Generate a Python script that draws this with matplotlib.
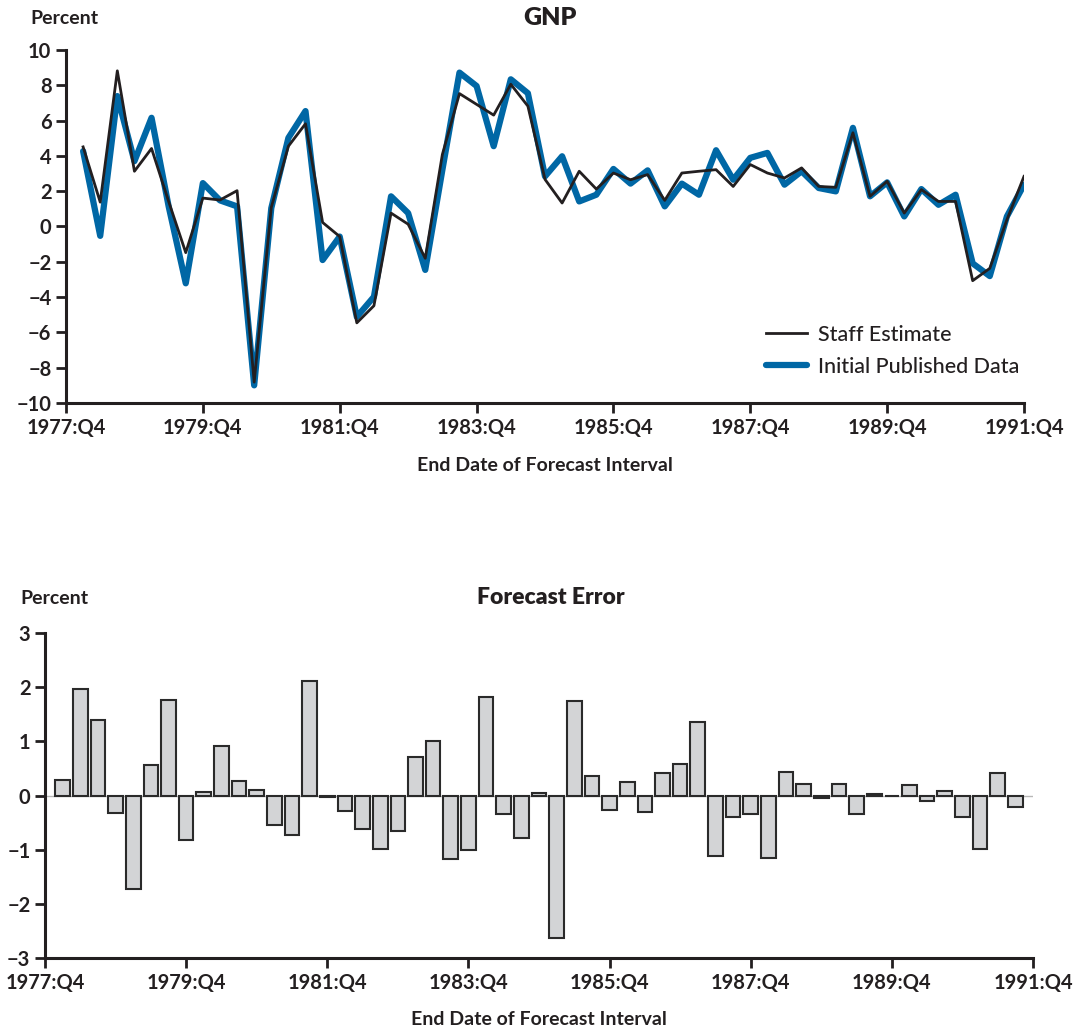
import numpy as np
import matplotlib.pyplot as plt

plt.rcParams['font.family'] = ['Lato', 'DejaVu Sans']

# quarters since 1977:Q4
tick_pos = [0, 8, 16, 24, 32, 40, 48, 56]
tick_labels = ['1977:Q4', '1979:Q4', '1981:Q4', '1983:Q4',
               '1985:Q4', '1987:Q4', '1989:Q4', '1991:Q4']

staff = [4.51, 1.38, 8.82, 3.13, 4.42, 1.42, -1.48, 1.61, 1.50, 2.03,
         -8.82, 1.08, 4.55, 5.82, 0.23, -0.57, -5.46, -4.49, 0.76, 0.13,
         -1.80, 4.08, 7.53, 6.92, 6.31, 8.06, 6.82, 2.67, 1.33, 3.13,
         2.12, 3.03, 2.65, 2.94, 1.48, 3.03, 3.13, 3.22, 2.27, 3.51,
         3.03, 2.75, 3.32, 2.27, 2.22, 5.31, 1.71, 2.56, 0.76, 2.09,
         1.42, 1.42, -3.07, -2.37, 0.38, 2.84]
published = [4.27, -0.53, 7.39, 3.70, 6.16, 1.14, -3.22, 2.46, 1.48, 1.14,
             -9.00, 1.04, 5.02, 6.54, -1.90, -0.57, -5.12, -3.98, 1.71, 0.76,
             -2.46, 3.20, 8.72, 7.96, 4.55, 8.34, 7.55, 2.84, 3.98, 1.42,
             1.80, 3.26, 2.43, 3.18, 1.14, 2.43, 1.80, 4.32, 2.65, 3.89,
             4.17, 2.37, 3.13, 2.18, 1.99, 5.59, 1.71, 2.50, 0.57, 2.12,
             1.23, 1.80, -2.09, -2.81, 0.57, 2.37]
line_q = np.arange(1, len(staff) + 1)

errors = [0.28, 1.96, 1.40, -0.33, -1.72, 0.56, 1.76, -0.82, 0.06, 0.91,
          0.26, 0.10, -0.55, -0.72, 2.11, -0.02, -0.28, -0.62, -0.98, -0.66,
          0.71, 1.00, -1.17, -1.01, 1.82, -0.34, -0.78, 0.04, -2.63, 1.75,
          0.36, -0.27, 0.25, -0.31, 0.42, 0.58, 1.36, -1.11, -0.40, -0.34,
          -1.16, 0.44, 0.21, -0.04, 0.21, -0.35, 0.03, -0.01, 0.20, -0.10,
          0.08, -0.40, -0.98, 0.41, -0.22]
bar_q = np.arange(1, len(errors) + 1)

W, H = 1078, 1028
fig = plt.figure(figsize=(W / 100, H / 100), dpi=100)

def px_axes(l, t, r, b):
    return fig.add_axes([l / W, 1 - b / H, (r - l) / W, (b - t) / H])

def style(ax):
    for s in ['top', 'right']:
        ax.spines[s].set_visible(False)
    for s in ['left', 'bottom']:
        ax.spines[s].set_linewidth(2.2)
        ax.spines[s].set_color('#231f20')
    ax.tick_params(direction='out', length=7, width=2, color='#231f20',
                   labelsize=14.5, labelcolor='#231f20')
    ax.set_xticks(tick_pos)
    ax.set_xticklabels(tick_labels, fontweight='bold')
    ax.set_xlim(0, 56)

# ---- top panel
ax1 = px_axes(66, 50, 1024, 403)
ax1.plot(line_q, staff, color='#231f20', lw=2, label='Staff Estimate', zorder=3)
ax1.plot(line_q, published, color='#0067a5', lw=4.5, label='Initial Published Data',
         solid_capstyle='round', zorder=2)
ax1.set_ylim(-10, 10)
ax1.set_yticks(range(-10, 11, 2))
ax1.set_yticklabels([str(v).replace('-', '\u2212') for v in range(-10, 11, 2)],
                    fontweight='bold')
style(ax1)
leg = ax1.legend(loc='lower right', bbox_to_anchor=(1.015, 0.02), frameon=False,
                 fontsize=15.5, handlelength=1.9, labelspacing=0.55, handletextpad=0.5)
for t in leg.get_texts():
    t.set_color('#231f20')
    t.set_fontweight('medium')
ax1.set_xlabel('End Date of Forecast Interval', fontsize=14, fontweight='bold',
               color='#231f20', labelpad=14)
fig.text(30 / W, 1 - 18 / H, 'Percent', fontsize=14, fontweight='bold',
         color='#231f20', va='center', ha='left')
fig.text(550 / W, 1 - 18 / H, 'GNP', fontsize=18, fontweight='heavy',
         color='#231f20', va='center', ha='center')

# ---- bottom panel
ax2 = px_axes(45, 633, 1033, 958)
ax2.axhline(0, color='#b8b8b8', lw=1, zorder=1)
ax2.bar(bar_q, errors, width=0.83, color='#d3d4d6', edgecolor='#2a2a2a',
        linewidth=1.5, zorder=2)
ax2.set_ylim(-3, 3)
ax2.set_yticks(range(-3, 4))
ax2.set_yticklabels([str(v).replace('-', '\u2212') for v in range(-3, 4)],
                    fontweight='bold')
style(ax2)
ax2.set_xlabel('End Date of Forecast Interval', fontsize=14, fontweight='bold',
               color='#231f20', labelpad=13)
fig.text(20 / W, 1 - 598 / H, 'Percent', fontsize=14, fontweight='bold',
         color='#231f20', va='center', ha='left')
fig.text(551 / W, 1 - 598 / H, 'Forecast Error', fontsize=16.5, fontweight='heavy',
         color='#231f20', va='center', ha='center')

fig.savefig('out.png', dpi=100)
